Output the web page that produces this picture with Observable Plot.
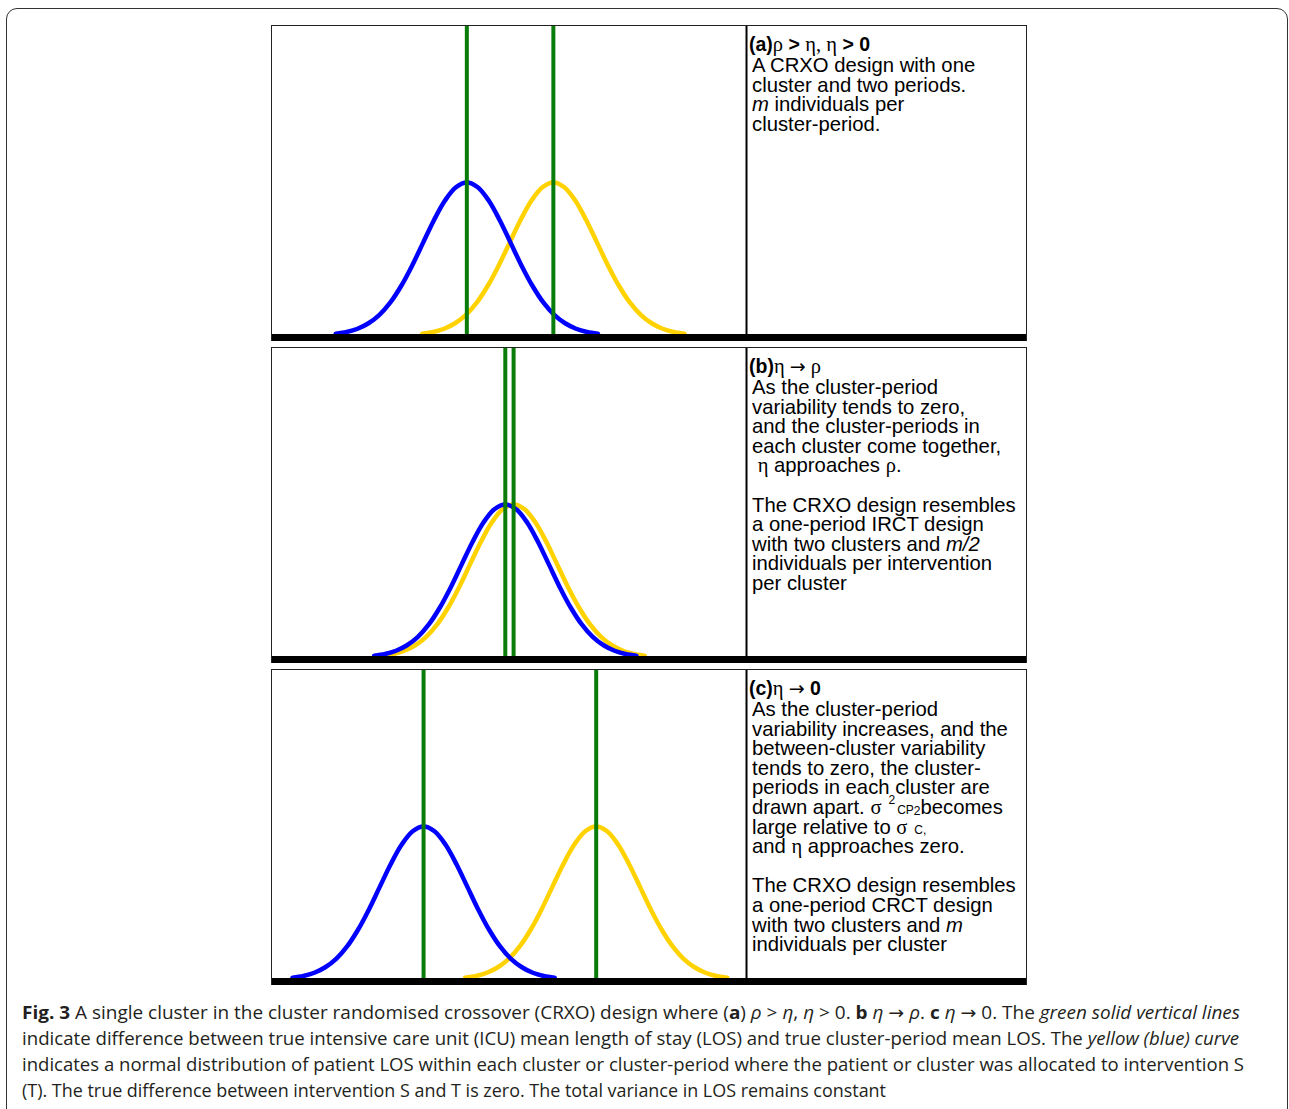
<!DOCTYPE html>
<html><head><meta charset="utf-8">
<script src="https://cdn.jsdelivr.net/npm/d3@7"></script>
<script src="https://cdn.jsdelivr.net/npm/@observablehq/plot@0.6"></script>
<style>
html,body{margin:0;padding:0;background:#fff;}
body{width:1289px;height:1109px;position:relative;overflow:hidden;font-family:"Liberation Sans",Arial,sans-serif;}
#frame{position:absolute;left:6px;top:8px;width:1282px;height:1200px;border:1.5px solid #333;border-radius:11px;box-sizing:border-box;}
.panel{position:absolute;left:271px;width:756px;height:316px;}
.panel svg{position:absolute;left:0;top:0;}
.box{position:absolute;left:0;top:0;width:756px;height:316px;box-sizing:border-box;border:1.5px solid #222;border-bottom:none;pointer-events:none;}
.txt{position:absolute;left:478px;top:8px;width:278px;color:#000;}
.hd{font-size:19.5px;line-height:23px;height:23px;white-space:pre;}
.ln{font-size:20.3px;line-height:19.6px;height:19.6px;white-space:pre;padding-left:3px;}
.g{font-family:"Liberation Serif","Times New Roman",serif;font-size:20.5px;font-weight:normal;}
.arr{font-family:"DejaVu Sans",sans-serif;font-size:19px;font-weight:normal;}
.sup2{position:relative;top:-10px;margin-left:7px;font-size:12px;}
.cp{margin-left:2px;font-size:12px;}
.sub2{position:relative;top:1px;font-size:12px;}
.cc{margin-left:7px;font-size:12px;}
#cap{position:absolute;left:22px;top:999px;font-family:"Open Sans",sans-serif;font-size:18px;color:#231f20;}
#cap div{white-space:nowrap;height:26px;line-height:26px;transform-origin:0 50%;}
#cap span.l{display:inline-block;}
#cap .a2{font-family:"DejaVu Sans",sans-serif;font-style:normal;}
</style></head>
<body>
<div id="frame"></div>
<div id="panels"></div>
<div id="cap"></div>
<script>
// ---- data ----
const panelIds = ["a", "b", "c"];
// curve centres (x units = one standard deviation of the plotted curve)
const blueMeans = [4.47, 5.35, 3.48];
const yellowMeans = [6.45, 5.54, 7.43];
// shared bell shape: offset from centre (sd units) and height relative to peak
const shapeOffsets = [-3, -2.75, -2.5, -2.25, -2, -1.75, -1.5, -1.25, -1, -0.75, -0.5, -0.25, 0,
  0.25, 0.5, 0.75, 1, 1.25, 1.5, 1.75, 2, 2.25, 2.5, 2.75, 3];
const shapeHeights = [0.011, 0.023, 0.044, 0.08, 0.135, 0.216, 0.325, 0.458, 0.607, 0.755, 0.882, 0.969, 1.0,
  0.969, 0.882, 0.755, 0.607, 0.458, 0.325, 0.216, 0.135, 0.08, 0.044, 0.023, 0.011];
const dividerX = 10.87;
const xDomain = [0, 17.3];
const yDomain = [0, 2.026];

const panelHeaders = [
  '<b>(a)</b><span class="g">ρ</span><b> &gt; </b><span class="g">η, η</span><b> &gt; 0</b>',
  '<b>(b)</b><span class="g">η </span><span class="arr">→</span><span class="g"> ρ</span>',
  '<b>(c)</b><span class="g">η </span><span class="arr">→</span><b> 0</b>'
];
const panelLinesA = ["A CRXO design with one", "cluster and two periods.", "<i>m</i> individuals per", "cluster-period."];
const panelLinesB = ["As the cluster-period", "variability tends to zero,", "and the cluster-periods in",
  "each cluster come together,", ' <span class="g">η</span> approaches <span class="g">ρ</span>.', "",
  "The CRXO design resembles", "a one-period IRCT design", "with two clusters and <i>m/2</i>",
  "individuals per intervention", "per cluster"];
const panelLinesC = ["As the cluster-period", "variability increases, and the", "between-cluster variability",
  "tends to zero, the cluster-", "periods in each cluster are",
  'drawn apart. <span class="g">σ</span><span class="sup2">2</span><span class="cp">CP</span><span class="sub2">2</span>becomes',
  'large relative to <span class="g">σ</span><span class="cc">C,</span>',
  'and <span class="g">η</span> approaches zero.', "",
  "The CRXO design resembles", "a one-period CRCT design", "with two clusters and <i>m</i>", "individuals per cluster"];
const panelLines = [panelLinesA, panelLinesB, panelLinesC];

const captionLines = [
  '<b>Fig. 3</b> A single cluster in the cluster randomised crossover (CRXO) design where (<b>a</b>) <i>ρ</i> &gt; <i>η</i>, <i>η</i> &gt; 0. <b>b</b> <i>η</i> <span class="a2">→</span> <i>ρ</i>. <b>c</b> <i>η</i> <span class="a2">→</span> 0. The <i>green solid vertical lines</i>',
  'indicate difference between true intensive care unit (ICU) mean length of stay (LOS) and true cluster-period mean LOS. The <i>yellow (blue) curve</i>',
  'indicates a normal distribution of patient LOS within each cluster or cluster-period where the patient or cluster was allocated to intervention S',
  '(T). The true difference between intervention S and T is zero. The total variance in LOS remains constant'
];

// ---- layout ----
const panelTops = [25, 347, 669];
const captionWidths = [1218, 1217, 1222, 864];

const curvePoints = (mean) => shapeOffsets.map((o, j) => ({x: mean + o, y: shapeHeights[j]}));

const host = document.getElementById("panels");
panelIds.forEach((id, i) => {
  const p = document.createElement("div");
  p.className = "panel";
  p.style.top = panelTops[i] + "px";
  const chart = Plot.plot({
    width: 756, height: 316,
    marginTop: 0, marginLeft: 0, marginRight: 0, marginBottom: 6,
    x: {domain: xDomain, axis: null},
    y: {domain: yDomain, axis: null},
    marks: [
      Plot.ruleX([dividerX], {stroke: "#000", strokeWidth: 2}),
      Plot.line(curvePoints(yellowMeans[i]), {x: "x", y: "y", stroke: "#ffd200", strokeWidth: 4.5, curve: "catmull-rom"}),
      Plot.line(curvePoints(blueMeans[i]), {x: "x", y: "y", stroke: "#0000ff", strokeWidth: 4.5, curve: "catmull-rom"}),
      Plot.ruleX([blueMeans[i], yellowMeans[i]], {stroke: "#0a7c0a", strokeWidth: 4}),
      Plot.ruleY([0], {stroke: "#000", strokeWidth: 7.5, dy: 2.3})
    ]
  });
  p.appendChild(chart);
  const box = document.createElement("div");
  box.className = "box";
  p.appendChild(box);
  const t = document.createElement("div");
  t.className = "txt";
  let html = '<div class="hd">' + panelHeaders[i] + '</div>';
  panelLines[i].forEach(l => { html += '<div class="ln">' + l + '</div>'; });
  t.innerHTML = html;
  p.appendChild(t);
  host.appendChild(p);
});

const cap = document.getElementById("cap");
captionLines.forEach((l, i) => {
  const d = document.createElement("div");
  const s = document.createElement("span");
  s.className = "l";
  s.innerHTML = l;
  d.appendChild(s);
  cap.appendChild(d);
  const w = s.getBoundingClientRect().width;
  d.style.transform = "scaleX(" + (captionWidths[i] / w) + ")";
});
</script>
</body></html>
